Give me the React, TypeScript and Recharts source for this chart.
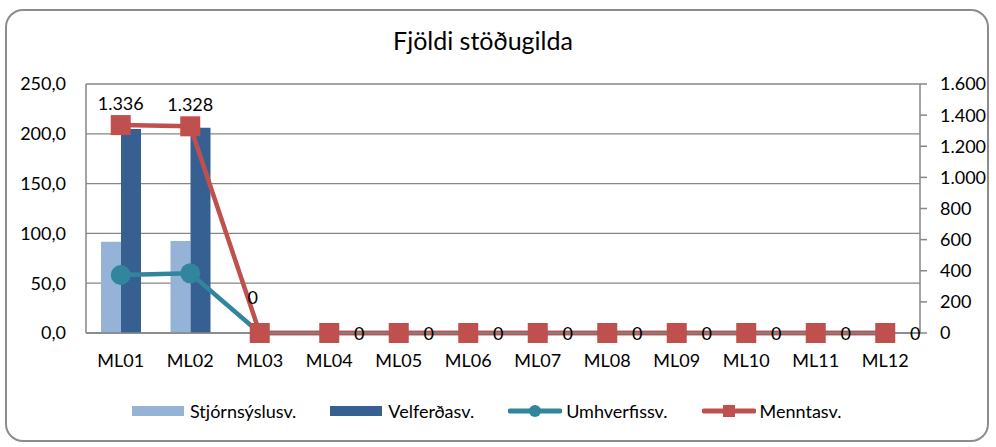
import { ComposedChart, Bar, Line, XAxis, YAxis, CartesianGrid, LabelList } from "recharts";

const categories = ["ML01", "ML02", "ML03", "ML04", "ML05", "ML06", "ML07", "ML08", "ML09", "ML10", "ML11", "ML12"];
const stjornsyslusv = [91.7, 92.3, 0, 0, 0, 0, 0, 0, 0, 0, 0, 0];
const velferdasv = [204.8, 206.0, 0, 0, 0, 0, 0, 0, 0, 0, 0, 0];
const umhverfissv = [58.2, 59.9, 0, 0, 0, 0, 0, 0, 0, 0, 0, 0];
const menntasv = [1336, 1328, 0, 0, 0, 0, 0, 0, 0, 0, 0, 0];
const leftTicks = [0, 50, 100, 150, 200, 250];
const rightTicks = [0, 200, 400, 600, 800, 1000, 1200, 1400, 1600];

const data = categories.map((name, i) => ({
  name,
  stj: stjornsyslusv[i],
  vel: velferdasv[i],
  umh: umhverfissv[i],
  men: menntasv[i],
}));

const FONT = "Lato, 'Noto Sans', sans-serif";
const GRID = "#868686";
const LIGHT = "#95B3D7";
const DARK = "#376092";
const TEAL = "#31859C";
const RED = "#C0504D";

const fmtLeft = (v: number) => v.toFixed(1).replace(".", ",");
const fmtRight = (v: number) => String(Math.round(v)).replace(/\B(?=(\d{3})+(?!\d))/g, ".");

const SquareDot = (props: any) => {
  const { cx, cy, index } = props;
  if (cx == null || cy == null) return null;
  return <rect key={`sq-${index}`} x={cx - 10} y={cy - 10} width={20} height={20} fill={RED} />;
};

const MennLabel = (props: any) => {
  const { x, y, value, index } = props;
  // first points sit above, the flat zeros get their label to the right
  let lx = x;
  let ly = y - 22;
  if (index === 2) {
    lx = x - 7;
    ly = y - 36;
  } else if (index > 2) {
    lx = x + 30;
    ly = y;
  }
  return (
    <text x={lx} y={ly} textAnchor="middle" dominantBaseline="central" fontSize={18} fontFamily={FONT} fill="#000">
      {fmtRight(value)}
    </text>
  );
};

const legendItems = [
  { label: "Stjórnsýslusv.", color: LIGHT, kind: "bar" },
  { label: "Velferðasv.", color: DARK, kind: "bar" },
  { label: "Umhverfissv.", color: TEAL, kind: "circle" },
  { label: "Menntasv.", color: RED, kind: "square" },
];

const LegendIcon = ({ color, kind }: { color: string; kind: string }) => (
  <svg width={54} height={14} style={{ display: "block" }}>
    {kind === "bar" ? (
      <rect x={0} y={2} width={52} height={10} fill={color} />
    ) : (
      <>
        <line x1={2} y1={7} x2={52} y2={7} stroke={color} strokeWidth={5} strokeLinecap="round" />
        {kind === "circle" ? (
          <circle cx={27} cy={7} r={6} fill={color} />
        ) : (
          <rect x={21} y={1} width={12} height={12} fill={color} />
        )}
      </>
    )}
  </svg>
);

export default function App() {
  return (
    <div style={{ position: "absolute", left: 0, top: 0, width: 996, height: 447, background: "#fff", fontFamily: FONT }}>
      <div
        style={{
          position: "absolute",
          left: 5,
          top: 9,
          width: 980,
          height: 429,
          border: "2px solid #8c8c8c",
          borderRadius: 18,
        }}
      />
      <div
        style={{
          position: "absolute",
          left: 0,
          top: 28,
          width: 966,
          textAlign: "center",
          fontSize: 25,
          lineHeight: "25px",
          color: "#000",
        }}
      >
        Fjöldi stöðugilda
      </div>
      <div style={{ position: "absolute", left: 0, top: 0 }}>
        <ComposedChart
          width={996}
          height={447}
          data={data}
          margin={{ top: 84, right: 6, bottom: 84, left: 6 }}
          barSize={20}
          barGap={0}
        >
          <CartesianGrid yAxisId="left" vertical={false} stroke={GRID} strokeWidth={1.3} />
          <XAxis
            dataKey="name"
            axisLine={{ stroke: GRID, strokeWidth: 1.5 }}
            tickLine={false}
            tickSize={0}
            tickMargin={21}
            height={30}
            tick={{ fontSize: 18, fontFamily: FONT, fill: "#000" }}
          />
          <YAxis
            yAxisId="left"
            domain={[0, 250]}
            ticks={leftTicks}
            tickFormatter={fmtLeft}
            axisLine={{ stroke: GRID, strokeWidth: 1.5 }}
            tickLine={false}
            tickSize={0}
            tickMargin={20}
            width={80}
            tick={{ fontSize: 18, fontFamily: FONT, fill: "#000" }}
          />
          <YAxis
            yAxisId="right"
            orientation="right"
            domain={[0, 1600]}
            ticks={rightTicks}
            tickFormatter={fmtRight}
            axisLine={{ stroke: GRID, strokeWidth: 1.5 }}
            tickLine={{ stroke: GRID, strokeWidth: 1.5 }}
            tickSize={7}
            tickMargin={13}
            width={70}
            tick={{ fontSize: 18, fontFamily: FONT, fill: "#000" }}
          />
          <Bar yAxisId="left" dataKey="stj" fill={LIGHT} isAnimationActive={false} />
          <Bar yAxisId="left" dataKey="vel" fill={DARK} isAnimationActive={false} />
          <Line
            yAxisId="left"
            type="linear"
            dataKey="umh"
            stroke={TEAL}
            strokeWidth={4.5}
            dot={{ r: 10, fill: TEAL, stroke: "none" }}
            activeDot={false}
            isAnimationActive={false}
          />
          <Line
            yAxisId="right"
            type="linear"
            dataKey="men"
            stroke={RED}
            strokeWidth={4.5}
            dot={<SquareDot />}
            activeDot={false}
            isAnimationActive={false}
          >
            <LabelList dataKey="men" content={<MennLabel />} />
          </Line>
        </ComposedChart>
      </div>
      <div
        style={{
          position: "absolute",
          left: 132,
          top: 400,
          display: "flex",
          alignItems: "center",
          gap: 34,
          fontSize: 18,
          color: "#000",
        }}
      >
        {legendItems.map((it) => (
          <div key={it.label} style={{ display: "flex", alignItems: "center", gap: 4 }}>
            <LegendIcon color={it.color} kind={it.kind} />
            <span>{it.label}</span>
          </div>
        ))}
      </div>
    </div>
  );
}
